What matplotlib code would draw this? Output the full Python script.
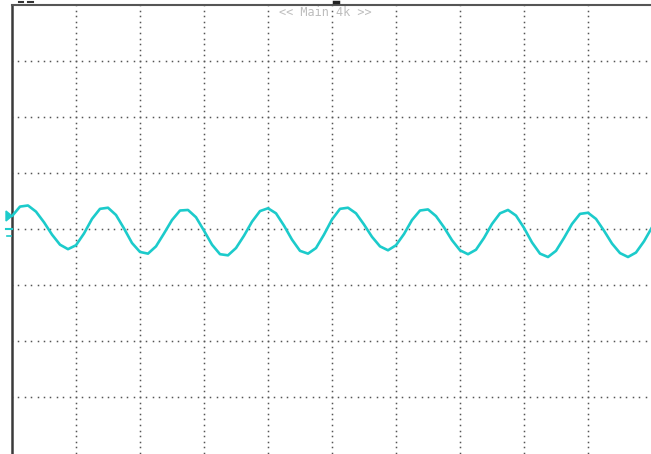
import numpy as np
import matplotlib
matplotlib.use('Agg')
import matplotlib.pyplot as plt
from matplotlib.patches import Polygon

# Scope capture, 10 x 8 divisions, channel 1 trace (values in divisions)
n_xdiv = 10
n_ydiv = 8
t_div = np.linspace(0, 10, 81)
ch1_div = [0.23, 0.40, 0.42, 0.31, 0.12, -0.10, -0.28, -0.36, -0.29, -0.08,
           0.18, 0.36, 0.38, 0.25, 0.01, -0.25, -0.41, -0.44, -0.31, -0.08,
           0.16, 0.33, 0.34, 0.21, -0.03, -0.28, -0.45, -0.47, -0.34, -0.12,
           0.13, 0.32, 0.37, 0.28, 0.06, -0.19, -0.39, -0.44, -0.34, -0.10,
           0.17, 0.36, 0.38, 0.28, 0.08, -0.14, -0.31, -0.38, -0.29, -0.09,
           0.16, 0.33, 0.35, 0.23, 0.03, -0.20, -0.38, -0.45, -0.37, -0.16,
           0.09, 0.28, 0.34, 0.24, 0.02, -0.24, -0.44, -0.50, -0.39, -0.16,
           0.09, 0.27, 0.29, 0.18, -0.03, -0.26, -0.43, -0.50, -0.42, -0.22,
           0.03]
label = '<< Main 4k >>'

trace_col = '#1ccbcb'
grid_col = '#555555'

W, H = 651, 454
fig = plt.figure(figsize=(W / 100., H / 100.), dpi=100)
fig.patch.set_facecolor('white')
ax = fig.add_axes([12. / W, 1. / H, 640. / W, 448. / H])
ax.set_xlim(0, n_xdiv)
ax.set_ylim(-n_ydiv / 2., n_ydiv / 2.)
ax.set_xticks([])
ax.set_yticks([])
for s in ['right', 'bottom']:
    ax.spines[s].set_visible(False)
ax.spines['left'].set_color('#3a3a3a')
ax.spines['left'].set_linewidth(1.8)
ax.spines['top'].set_color('#555555')
ax.spines['top'].set_linewidth(1.5)

# dotted graticule
dots_y = np.arange(-40, 41) / 10.
for gx in range(1, n_xdiv):
    ax.plot(np.full_like(dots_y, gx), dots_y, ls='none', marker='s',
            ms=1.1, mew=0, color=grid_col, zorder=1)
dots_x = np.arange(0, 101) / 10.
for gy in range(-3, 4):
    ax.plot(dots_x, np.full_like(dots_x, gy), ls='none', marker='s',
            ms=1.1, mew=0, color=grid_col, zorder=1)

ax.plot(t_div, ch1_div, color=trace_col, lw=1.9, zorder=3,
        solid_joinstyle='round', solid_capstyle='round')

ax.text(4.9, 3.87, label, ha='center', va='center', color='#bdbdbd',
        family='DejaVu Sans Mono', fontsize=8.6, zorder=2)

# channel markers on the left edge
fig.patches.append(Polygon([[6. / W, 1 - 211. / H], [12. / W, 1 - 216. / H],
                            [6. / W, 1 - 221. / H]], closed=True,
                           color=trace_col, transform=fig.transFigure))
fig.lines.append(plt.Line2D([6. / W, 12. / W], [1 - 229. / H, 1 - 229. / H],
                            color=trace_col, lw=1.5, transform=fig.transFigure))
fig.lines.append(plt.Line2D([7. / W, 11. / W], [1 - 236. / H, 1 - 236. / H],
                            color=trace_col, lw=1.2, transform=fig.transFigure))
# small marks above the frame
fig.lines.append(plt.Line2D([19. / W, 23. / W], [1 - 2. / H, 1 - 2. / H],
                            color='#333333', lw=1.5, transform=fig.transFigure))
fig.lines.append(plt.Line2D([28. / W, 33. / W], [1 - 2. / H, 1 - 2. / H],
                            color='#333333', lw=1.5, transform=fig.transFigure))
fig.lines.append(plt.Line2D([334. / W, 338. / W], [1 - 2. / H, 1 - 2. / H],
                            color='#222222', lw=2.5, transform=fig.transFigure))

fig.savefig('out.png', dpi=100)
